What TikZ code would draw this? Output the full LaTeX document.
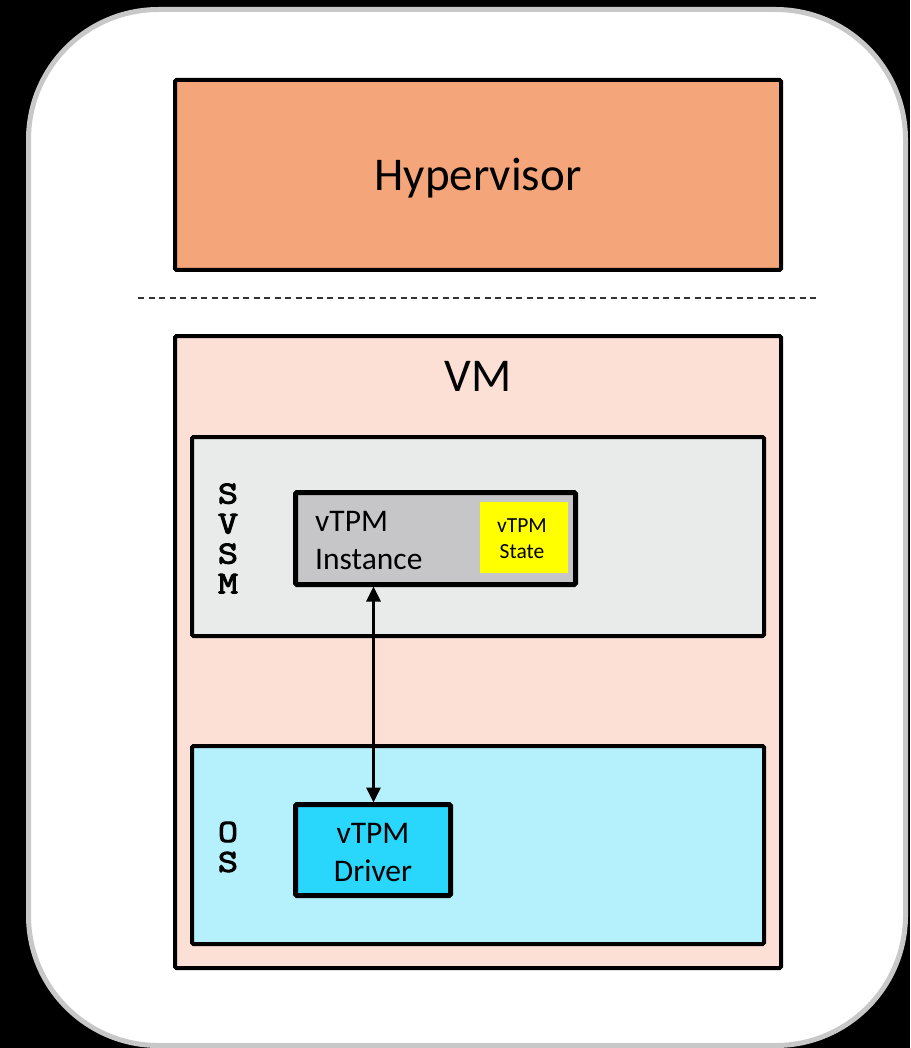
\documentclass[tikz,border=0pt]{standalone}
\usepackage{fontspec}
\setmainfont{Carlito}
\newfontfamily\sideletters[FakeBold=3.2, FakeStretch=1.22]{Latin Modern Mono}
\usetikzlibrary{arrows.meta}

\definecolor{hvfill}{HTML}{F4A57A}
\definecolor{vmfill}{HTML}{FCE0D6}
\definecolor{svsmfill}{HTML}{E9EBEA}
\definecolor{instfill}{HTML}{C6C6C8}
\definecolor{statefill}{HTML}{FFFF00}
\definecolor{osfill}{HTML}{B5F1FC}
\definecolor{drvfill}{HTML}{29D6FC}
\definecolor{framegray}{HTML}{C8C8C8}
\definecolor{dashgray}{HTML}{333333}

\tikzset{
  block/.style={draw=black, line width=4pt, rounded corners=1.5pt, inner sep=0pt},
  thickblock/.style={block, line width=5pt},
  bigtext/.style={font=\fontsize{47}{56}\selectfont},
  midtext/.style={font=\fontsize{31.5}{38}\selectfont},
  smalltext/.style={font=\fontsize{21.5}{26}\selectfont},
  sidelabel/.style={font=\sideletters\fontsize{32}{30}\selectfont, align=center, inner sep=0pt},
}

\begin{document}
\begin{tikzpicture}[x=1pt, y=-1pt]
  % page background and outer frame
  \useasboundingbox (0,0) rectangle (910,1048);
  \fill[black] (0,0) rectangle (910,1048);
  \draw[framegray, fill=white, line width=5pt, rounded corners=130pt] (28.5,9.5) rectangle (905.5,1045.5);

  % hypervisor layer
  \node[block, fill=hvfill, minimum width=606pt, minimum height=190pt] (hv) at (478,175) {};
  \node[bigtext] (hvlabel) at (478,178) {Hypervisor};

  % separator
  \draw[dashgray, line width=2pt, dash pattern=on 6pt off 4.5pt] (138,298) -- (820,298);

  % virtual machine
  \node[block, fill=vmfill, minimum width=606pt, minimum height=632pt] (vm) at (478,652) {};
  \node[bigtext] (vmlabel) at (478,376) {VM};

  % SVSM region
  \node[block, fill=svsmfill, minimum width=572pt, minimum height=199pt] (svsm) at (478,536.5) {};
  \node[sidelabel] (svsmlabel) at (228,538.5) {S\\V\\S\\M};

  \node[thickblock, fill=instfill, minimum width=280pt, minimum height=92pt] (inst) at (435.5,538.5) {};
  \node[midtext, align=left, anchor=west, inner sep=0pt] (instlabel) at (315,541) {vTPM\\Instance};
  \node[fill=statefill, minimum width=88pt, minimum height=71pt, inner sep=0pt] (state) at (524,537.5) {};
  \node[smalltext, align=center, inner sep=0pt] (statelabel) at (522,538.5) {vTPM\\State};

  % guest OS region
  \node[block, fill=osfill, minimum width=572pt, minimum height=198pt] (os) at (478,845) {};
  \node[sidelabel] (oslabel) at (228,847) {O\\S};

  \node[thickblock, fill=drvfill, minimum width=155pt, minimum height=91pt] (drv) at (373,850) {};
  \node[midtext, align=center, inner sep=0pt] (drvlabel) at (373,852) {vTPM\\Driver};

  % link between driver and instance
  \draw[line width=3pt, {Triangle[length=15pt,width=14pt]}-{Triangle[length=15pt,width=14pt]}, shorten <=-0.5pt, shorten >=-0.5pt]
    ([xshift=0.5pt]drv.north |- inst.south) -- ([xshift=0.5pt]drv.north);
\end{tikzpicture}
\end{document}
